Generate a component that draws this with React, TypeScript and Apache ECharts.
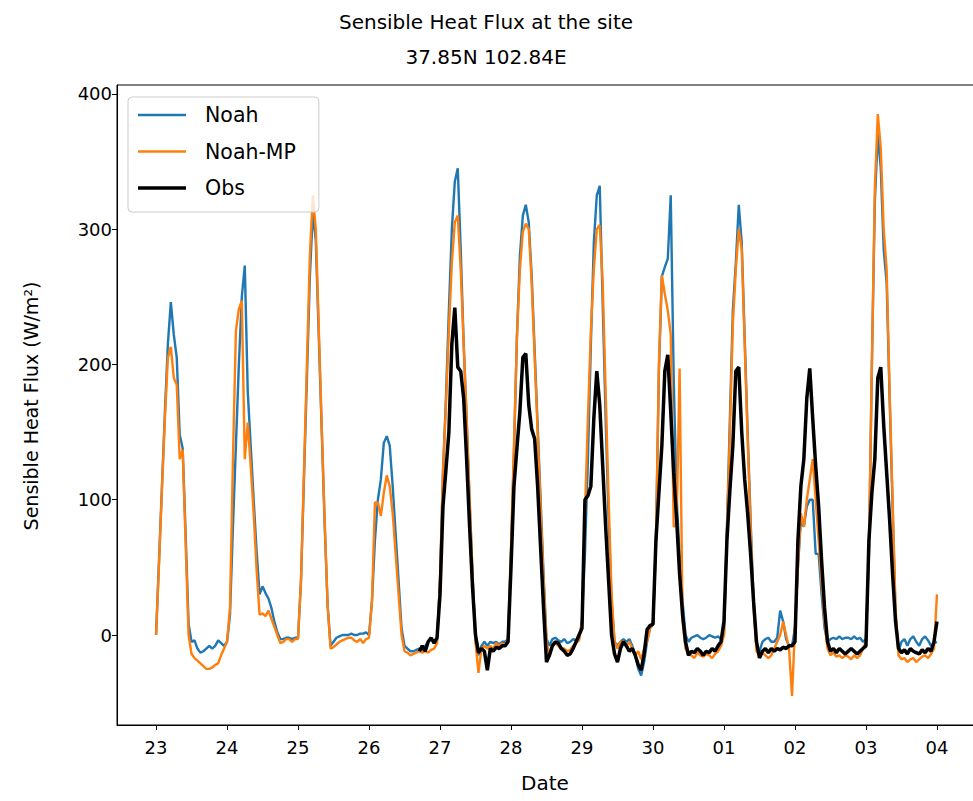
import React, { useEffect, useRef } from "react";
import * as echarts from "echarts";

// Day-of-month tick labels, one per 24 h starting at hour 0
const dayLabels = ["23", "24", "25", "26", "27", "28", "29", "30", "01", "02", "03", "04"];
const dayTicks = dayLabels.map((_, i) => i * 24);
const fluxTicks = [0, 100, 200, 300, 400];

// Hourly sensible heat flux (W/m2), one row per day, final value at 04 00h
const noahFlux = [
  0, 55, 110, 165, 215, 246, 222, 205, 148, 138, 75, 8, -5, -4, -10, -13, -12, -10, -8, -10, -8, -4, -6, -8,
  -5, 15, 80, 140, 200, 250, 273, 180, 140, 100, 62, 30, 36, 31, 27, 20, 10, 2, -3, -3, -2, -2, -3, -2,
  -2, 40, 115, 190, 265, 312, 292, 222, 152, 82, 22, -8, -5, -2, -1, 0, 0, 0, 1, 0, 0, 1, 1, 2,
  0, 25, 70, 100, 115, 142, 147, 140, 110, 75, 40, 5, -8, -10, -12, -12, -11, -10, -12, -8, -5, -3, -6, -3,
  40, 120, 175, 240, 300, 335, 345, 285, 215, 160, 100, 45, -5, -15, -8, -5, -8, -5, -6, -5, -7, -5, -5, -3,
  60, 135, 220, 280, 310, 318, 305, 265, 210, 155, 100, 45, -3, -8, -3, -2, -4, -5, -3, -6, -5, -3, -4, -3,
  10, 60, 130, 215, 290, 325, 332, 245, 160, 85, 25, -5, -8, -5, -3, -5, -3, -8, -15, -25, -30, -20, -5, 5,
  8, 70, 195, 265, 272, 278, 325, 190, 100, 60, 25, 0, -5, -2, -1, 0, -2, -3, -2, 0, -1, -2, -1, -3,
  0, 80, 160, 240, 275, 318, 290, 220, 150, 85, 25, -10, -12, -5, -3, -2, -5, -5, -2, 18, 10, -3, -8, -8,
  5, 50, 85, 80, 95, 100, 100, 60, 60, 30, 5, -5, -3, -2, -3, -1, -3, -2, -2, -3, -1, -3, -2, -5,
  -3, 60, 200, 320, 370, 345, 285, 260, 175, 95, 15, -12, -5, -3, -8, -3, -1, -5, -8, -3, -1, -4, -8, -6,
  -5,
];

const noahMpFlux = [
  0, 52, 108, 160, 205, 213, 190, 185, 130, 137, 68, 0, -14, -17, -19, -21, -23, -25, -25, -24, -22, -21, -15, -10,
  -5, 20, 130, 225, 241, 247, 130, 157, 125, 90, 48, 15, 16, 14, 18, 12, 6, 0, -6, -5, -3, -3, -5, -3,
  -3, 40, 120, 200, 280, 325, 300, 228, 155, 85, 22, -10, -9, -7, -5, -4, -3, -2, -2, -4, -5, -3, -6, -3,
  -2, 25, 98, 98, 88, 105, 118, 110, 90, 60, 30, 0, -12, -13, -15, -14, -13, -12, -13, -12, -13, -11, -10, -6,
  40, 120, 170, 225, 275, 305, 310, 270, 215, 160, 100, 45, -5, -28, -10, -8, -10, -8, -10, -6, -8, -6, -8, -3,
  65, 140, 220, 270, 298, 304, 300, 260, 205, 150, 95, 40, -5, -15, -8, -6, -8, -10, -10, -12, -11, -8, -6, -4,
  10, 90, 160, 225, 270, 300, 303, 260, 180, 100, 30, -5, -10, -5, -5, -8, -5, -10, -15, -12, -18, -10, -5, 5,
  8, 65, 200, 266, 252, 240, 222, 80, 82, 197, 10, -10, -14, -15, -17, -13, -15, -16, -14, -15, -17, -14, -12, -8,
  0, 75, 150, 230, 270, 300, 285, 215, 145, 80, 20, -12, -15, -13, -15, -17, -15, -10, -5, 0, 10, 0, -10, -45,
  5, 50, 90, 80, 100, 115, 130, 100, 70, 40, 10, -10, -15, -13, -16, -15, -17, -15, -16, -18, -15, -17, -15, -10,
  -5, 60, 200, 330, 385, 360, 300, 270, 180, 100, 20, -15, -18, -17, -20, -18, -17, -20, -18, -16, -15, -17, -14, -10,
  30,
];

// Observations begin on the 26th at 17h
const obsStartHour = 89;
const obsFlux = [
  -12, -8, -12, -5, -2, -6, -2,
  30, 95, 122, 150, 215, 242, 198, 195, 175, 130, 80, 35, 0, -13, -10, -12, -26, -10, -12, -9, -10, -8, -8, -5,
  50, 110, 138, 165, 205, 208, 170, 152, 145, 110, 65, 20, -20, -15, -8, -5, -6, -10, -12, -15, -14, -10, -5, 0,
  5, 100, 103, 110, 160, 195, 170, 125, 80, 40, 0, -14, -20, -10, -5, -8, -12, -10, -15, -22, -26, -14, 4, 7,
  8, 70, 105, 140, 195, 207, 165, 120, 85, 45, 15, -5, -15, -12, -13, -10, -12, -15, -12, -13, -10, -12, -8, -5,
  10, 70, 107, 140, 195, 198, 150, 115, 90, 60, 25, -5, -17, -12, -10, -13, -10, -12, -10, -11, -9, -10, -8, -8,
  -5, 70, 110, 130, 175, 197, 160, 125, 95, 55, 20, -5, -12, -10, -13, -10, -12, -14, -12, -10, -12, -14, -12, -10,
  -8, 70, 105, 130, 190, 198, 155, 120, 85, 45, 10, -10, -13, -11, -14, -10, -12, -13, -14, -11, -13, -10, -12, -5,
  10,
];

const FONT = "DejaVu Sans";
const NOAH_COLOR = "#1f77b4";
const NOAH_MP_COLOR = "#ff7f0e";
const OBS_COLOR = "#000000";

function toPairs(values: number[], start: number) {
  return values.map((v, i) => [start + i, v]);
}

// Legend swatch: a thin horizontal bar, kept at its own aspect inside the item box
function lineIcon(thickness: number) {
  return `path://M0,0H48V${thickness}H0Z`;
}

export default function App() {
  const ref = useRef<HTMLDivElement>(null);

  useEffect(() => {
    if (!ref.current) return;
    const chart = echarts.init(ref.current, null, { renderer: "svg" });
    const textBase = { fill: "#000", textAlign: "center", textVerticalAlign: "middle" };
    chart.setOption({
      animation: false,
      backgroundColor: "#ffffff",
      textStyle: { fontFamily: FONT, color: "#000" },
      graphic: [
        {
          type: "text",
          x: 486,
          y: 22,
          style: { ...textBase, text: "Sensible Heat Flux at the site", font: `20px "${FONT}"` },
        },
        {
          type: "text",
          x: 486,
          y: 57,
          style: { ...textBase, text: "37.85N 102.84E", font: `20px "${FONT}"` },
        },
        {
          type: "text",
          x: 31,
          y: 406,
          rotation: Math.PI / 2,
          style: { ...textBase, text: "Sensible Heat Flux (W/m²)", font: `19px "${FONT}"` },
        },
        {
          type: "text",
          x: 545,
          y: 783,
          style: { ...textBase, text: "Date", font: `20px "${FONT}"` },
        },
      ],
      legend: {
        orient: "vertical",
        left: 128,
        top: 97,
        itemWidth: 48,
        itemHeight: 22,
        itemGap: 14.5,
        symbolKeepAspect: true,
        padding: [7, 23, 13, 10],
        backgroundColor: "rgba(255,255,255,0.8)",
        borderColor: "#cccccc",
        borderWidth: 1,
        borderRadius: 4,
        textStyle: { fontSize: 20.5, lineHeight: 22, color: "#000", fontFamily: FONT, padding: [0, 0, 0, 14] },
        data: [
          { name: "Noah", icon: lineIcon(2.4) },
          { name: "Noah-MP", icon: lineIcon(2.4) },
          { name: "Obs", icon: lineIcon(3.5) },
        ],
      },
      grid: {
        left: 117,
        right: -3,
        top: 85,
        bottom: 76,
        show: true,
        borderColor: "#000",
        borderWidth: 1,
        containLabel: false,
        outerBoundsMode: "none",
      },
      xAxis: {
        type: "value",
        min: -13.2,
        max: 277.2,
        axisLine: { show: true, onZero: false, lineStyle: { color: "#000", width: 1 } },
        axisTick: { show: true, length: 5, customValues: dayTicks, lineStyle: { color: "#000" } },
        axisLabel: {
          customValues: dayTicks,
          fontSize: 18,
          color: "#000",
          fontFamily: FONT,
          margin: 13,
          formatter: (v: number) => dayLabels[Math.round(v / 24)] ?? "",
        },
        splitLine: { show: false },
      },
      yAxis: {
        type: "value",
        min: -66.5,
        max: 406.5,
        axisLine: { show: true, onZero: false, lineStyle: { color: "#000", width: 1 } },
        axisTick: { show: true, length: 5, customValues: fluxTicks, lineStyle: { color: "#000" } },
        axisLabel: { customValues: fluxTicks, fontSize: 18, color: "#000", fontFamily: FONT, margin: 5 },
        splitLine: { show: false },
      },
      series: [
        {
          name: "Noah",
          type: "line",
          symbol: "none",
          showSymbol: false,
          data: toPairs(noahFlux, 0),
          lineStyle: { color: NOAH_COLOR, width: 2.4 },
          itemStyle: { color: NOAH_COLOR },
          z: 2,
        },
        {
          name: "Noah-MP",
          type: "line",
          symbol: "none",
          showSymbol: false,
          data: toPairs(noahMpFlux, 0),
          lineStyle: { color: NOAH_MP_COLOR, width: 2.4 },
          itemStyle: { color: NOAH_MP_COLOR },
          z: 3,
        },
        {
          name: "Obs",
          type: "line",
          symbol: "none",
          showSymbol: false,
          data: toPairs(obsFlux, obsStartHour),
          lineStyle: { color: OBS_COLOR, width: 3.5 },
          itemStyle: { color: OBS_COLOR },
          z: 4,
        },
      ],
    });
    return () => chart.dispose();
  }, []);

  return (
    <div
      ref={ref}
      style={{ position: "fixed", left: 0, top: 0, width: 973, height: 801, background: "#fff" }}
    />
  );
}
